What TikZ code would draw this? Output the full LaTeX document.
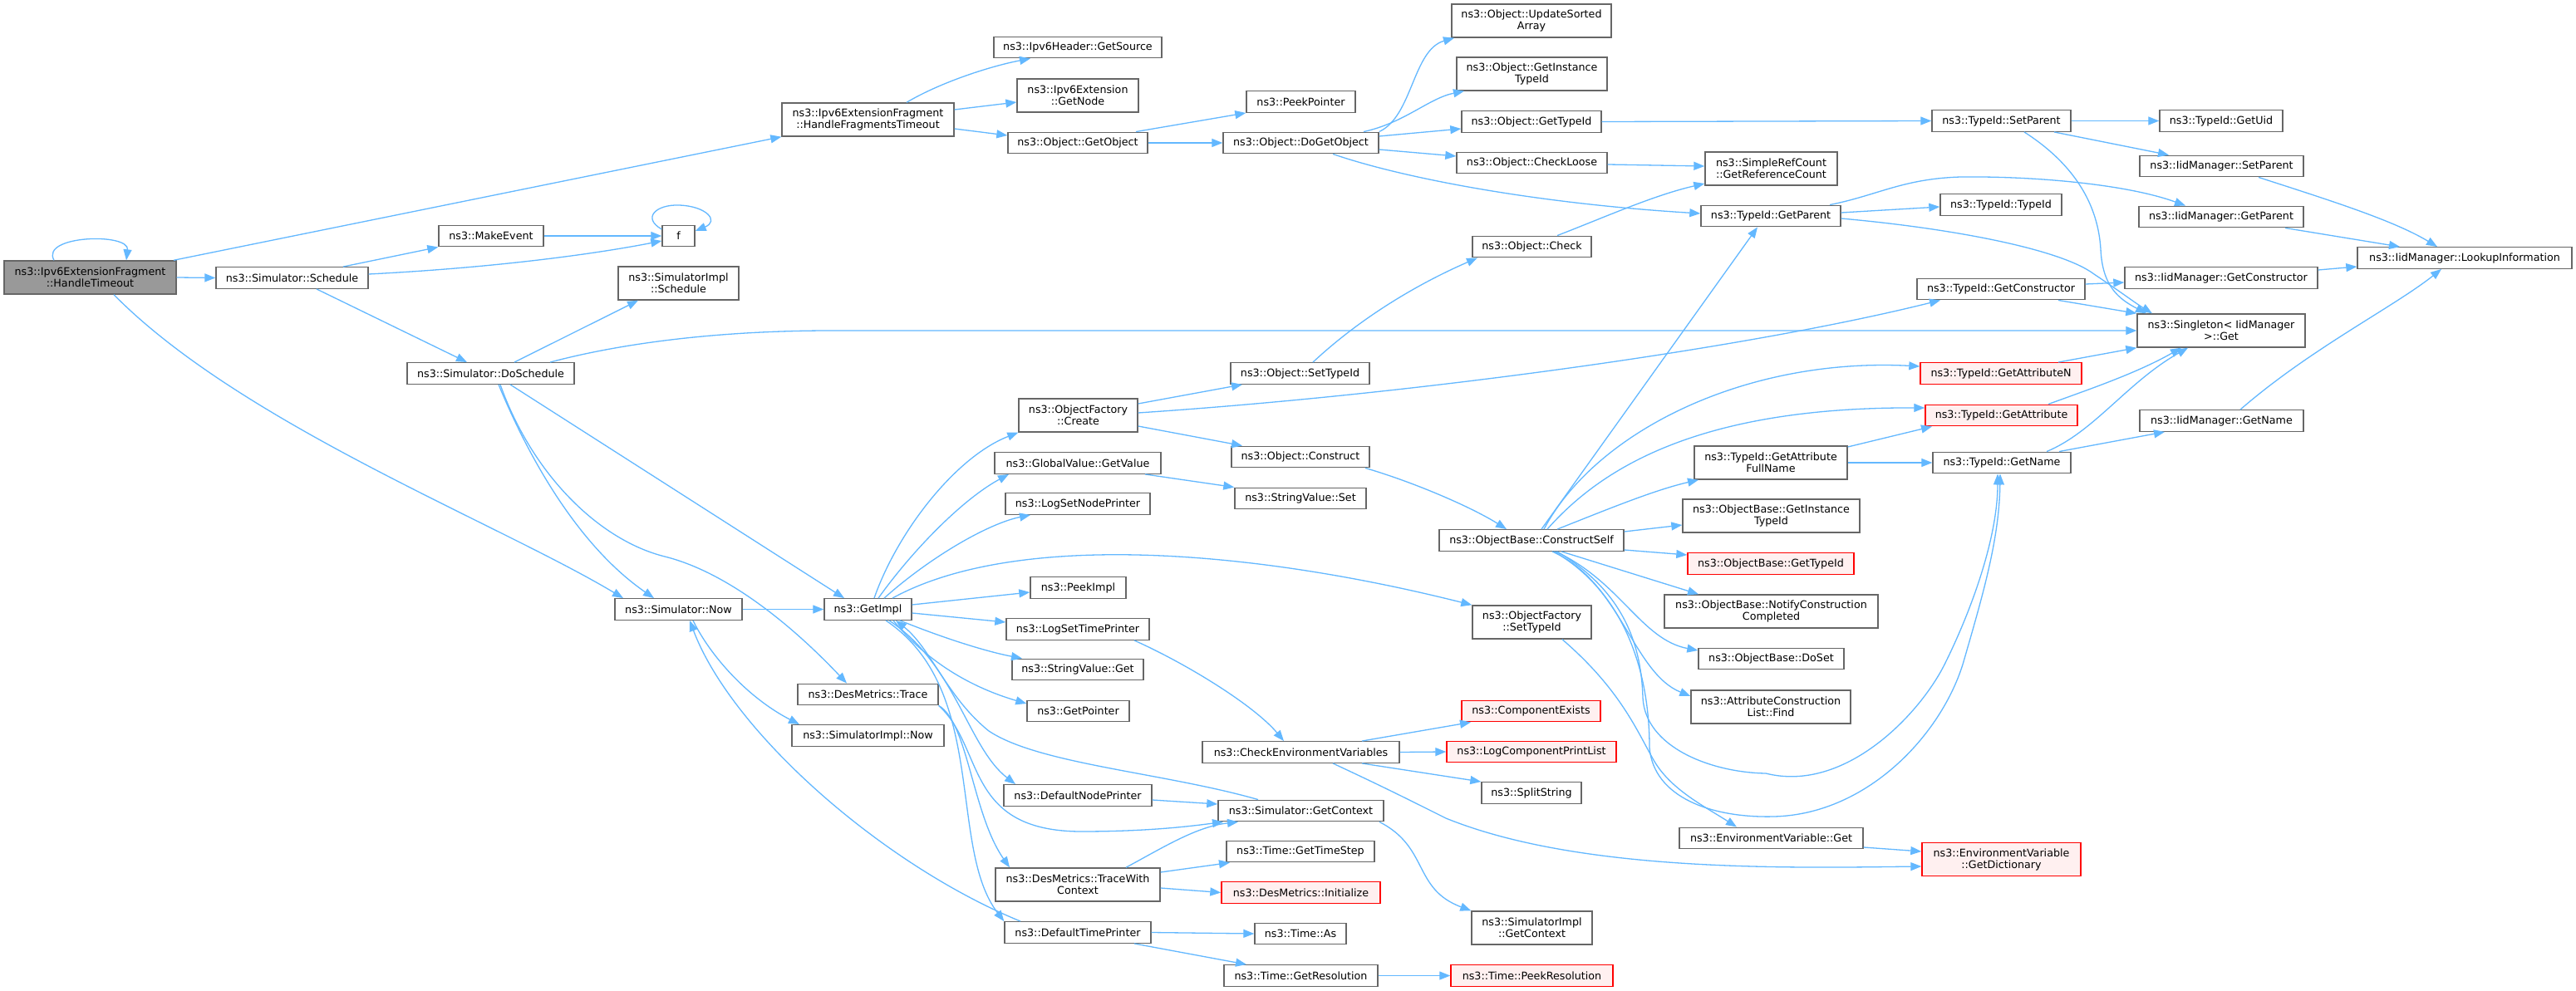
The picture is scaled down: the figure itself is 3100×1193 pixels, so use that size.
\documentclass[tikz,border=0pt]{standalone}
\usepackage{fontspec}
\setmainfont{DejaVu Sans}
\usetikzlibrary{arrows.meta}
\definecolor{eblue}{HTML}{63B8FF}
\definecolor{bgray}{HTML}{666666}
\definecolor{mgray}{HTML}{999999}
\definecolor{rfill}{HTML}{FFF0F0}
\definecolor{rborder}{HTML}{FF0000}
\newcommand\nfont{\fontsize{12.7}{14}\selectfont}
\begin{document}
\begin{tikzpicture}[x=1pt,y=-1pt,
  nb/.style={draw=bgray, line width=1.4pt, fill=white, inner sep=0pt, align=center, font=\nfont, minimum height=25.5pt},
  bw/.style={minimum width=#1pt},
  tl/.style={minimum height=40pt},
  rd/.style={draw=rborder, fill=rfill},
  mn/.style={fill=mgray},
  e/.style={draw=eblue, line width=1.3pt, -{Triangle[length=13pt,width=10pt]}}]
\useasboundingbox (0,0) rectangle (3100,1193);
\fill[white] (0,0) rectangle (3100,1193);

% column 0-3
\node[nb,mn,tl,bw=207] (ht) at (108.5,334) {ns3::Ipv6ExtensionFragment\\::HandleTimeout};
\node[nb,bw=183] (sched) at (351.5,334.5) {ns3::Simulator::Schedule};
\node[nb,bw=126] (mkev) at (591,284) {ns3::MakeEvent};
\node[nb,bw=201] (dosch) at (590.5,449.5) {ns3::Simulator::DoSchedule};
\node[nb,bw=39] (f) at (816.5,284) {f};
\node[nb,tl,bw=145] (sisched) at (816.5,341) {ns3::SimulatorImpl\\::Schedule};
\node[nb,bw=153] (now) at (816.5,733.5) {ns3::Simulator::Now};
% column 4
\node[nb,tl,bw=207] (hft) at (1044.5,144) {ns3::Ipv6ExtensionFragment\\::HandleFragmentsTimeout};
\node[nb,bw=105] (getimpl) at (1044.5,733.5) {ns3::GetImpl};
\node[nb,bw=169] (trace) at (1044.5,836) {ns3::DesMetrics::Trace};
\node[nb,bw=183] (sinow) at (1044.5,885.5) {ns3::SimulatorImpl::Now};
% column 5
\node[nb,bw=202] (getsource) at (1297,57) {ns3::Ipv6Header::GetSource};
\node[nb,tl,bw=146] (getnode) at (1297,115) {ns3::Ipv6Extension\\::GetNode};
\node[nb,bw=168] (getobject) at (1297,172) {ns3::Object::GetObject};
\node[nb,tl,bw=143] (create) at (1297.5,500) {ns3::ObjectFactory\\::Create};
\node[nb,bw=200] (getvalue) at (1297,557.5) {ns3::GlobalValue::GetValue};
\node[nb,bw=174] (lsnp) at (1297,606.5) {ns3::LogSetNodePrinter};
\node[nb,bw=115] (peekimpl) at (1297.5,707.5) {ns3::PeekImpl};
\node[nb,bw=172] (lstp) at (1297,757.5) {ns3::LogSetTimePrinter};
\node[nb,bw=158] (svget) at (1297,806) {ns3::StringValue::Get};
\node[nb,bw=123] (getpointer) at (1297.5,856) {ns3::GetPointer};
\node[nb,bw=178] (dnp) at (1297,957.5) {ns3::DefaultNodePrinter};
\node[nb,tl,bw=198] (twc) at (1297,1065) {ns3::DesMetrics::TraceWith\\Context};
\node[nb,bw=176] (dtp) at (1297,1122.5) {ns3::DefaultTimePrinter};
% column 6
\node[nb,bw=131] (peekptr) at (1565.5,122.5) {ns3::PeekPointer};
\node[nb,bw=187] (dogetobj) at (1565.5,172) {ns3::Object::DoGetObject};
\node[nb,bw=167] (ostid) at (1564.5,449.5) {ns3::Object::SetTypeId};
\node[nb,bw=166] (construct) at (1565,550) {ns3::Object::Construct};
\node[nb,bw=158] (svset) at (1565,600) {ns3::StringValue::Set};
\node[nb,bw=237] (cev) at (1565.5,905.5) {ns3::CheckEnvironmentVariables};
\node[nb,bw=199] (getctx) at (1565.5,976) {ns3::Simulator::GetContext};
\node[nb,bw=178] (gts) at (1565,1025) {ns3::Time::GetTimeStep};
\node[nb,rd,bw=191] (dminit) at (1565.5,1074.5) {ns3::DesMetrics::Initialize};
\node[nb,bw=110] (timeas) at (1565,1124) {ns3::Time::As};
\node[nb,bw=185] (getres) at (1565.5,1174.5) {ns3::Time::GetResolution};
% column 7
\node[nb,tl,bw=192] (usa) at (1843,25) {ns3::Object::UpdateSorted\\Array};
\node[nb,tl,bw=181] (ogitid) at (1843.5,89) {ns3::Object::GetInstance\\TypeId};
\node[nb,bw=168] (ogettid) at (1843,146.5) {ns3::Object::GetTypeId};
\node[nb,bw=181] (checkloose) at (1843.5,196) {ns3::Object::CheckLoose};
\node[nb,bw=143] (check) at (1843.5,297) {ns3::Object::Check};
\node[nb,bw=222] (cself) at (1843,650.5) {ns3::ObjectBase::ConstructSelf};
\node[nb,tl,bw=143] (oftid) at (1843.5,749) {ns3::ObjectFactory\\::SetTypeId};
\node[nb,rd,bw=167] (compex) at (1842.5,856) {ns3::ComponentExists};
\node[nb,rd,bw=204] (lcpl) at (1843,905) {ns3::LogComponentPrintList};
\node[nb,bw=120] (split) at (1843,954.5) {ns3::SplitString};
\node[nb,tl,bw=145] (sigetctx) at (1843.5,1117) {ns3::SimulatorImpl\\::GetContext};
\node[nb,rd,bw=195] (peekres) at (1843.5,1174.5) {ns3::Time::PeekResolution};
% column 8
\node[nb,tl,bw=159] (grc) at (2131.5,203) {ns3::SimpleRefCount\\::GetReferenceCount};
\node[nb,bw=168] (getparent) at (2131,260) {ns3::TypeId::GetParent};
\node[nb,tl,bw=184] (gafn) at (2131,557) {ns3::TypeId::GetAttribute\\FullName};
\node[nb,tl,bw=213] (obgitid) at (2131.5,621) {ns3::ObjectBase::GetInstance\\TypeId};
\node[nb,rd,bw=200] (obgtid) at (2131,678.5) {ns3::ObjectBase::GetTypeId};
\node[nb,tl,bw=257] (ncc) at (2131.5,736) {ns3::ObjectBase::NotifyConstruction\\Completed};
\node[nb,bw=175] (doset) at (2131.5,793) {ns3::ObjectBase::DoSet};
\node[nb,tl,bw=192] (acfind) at (2131,851) {ns3::AttributeConstruction\\List::Find};
\node[nb,bw=221] (evget) at (2131.5,1009) {ns3::EnvironmentVariable::Get};
% column 9
\node[nb,bw=167] (setparent) at (2408.5,145.5) {ns3::TypeId::SetParent};
\node[nb,bw=146] (tidtid) at (2408,246.5) {ns3::TypeId::TypeId};
\node[nb,bw=202] (tidgc) at (2408,348) {ns3::TypeId::GetConstructor};
\node[nb,rd,bw=194] (gan) at (2408,449.5) {ns3::TypeId::GetAttributeN};
\node[nb,rd,bw=183] (ga) at (2408.5,500) {ns3::TypeId::GetAttribute};
\node[nb,bw=166] (getname) at (2409,557) {ns3::TypeId::GetName};
\node[nb,rd,tl,bw=191] (getdict) at (2408.5,1034.5) {ns3::EnvironmentVariable\\::GetDictionary};
% column 10-11
\node[nb,bw=148] (getuid) at (2673,145.5) {ns3::TypeId::GetUid};
\node[nb,bw=197] (iidsp) at (2673.5,200) {ns3::IidManager::SetParent};
\node[nb,bw=198] (iidgp) at (2673,261) {ns3::IidManager::GetParent};
\node[nb,bw=232] (iidgc) at (2673,334.5) {ns3::IidManager::GetConstructor};
\node[nb,tl,bw=202] (singleton) at (2673,398) {ns3::Singleton< IidManager\\ >::Get};
\node[nb,bw=197] (iidgn) at (2673.5,506.5) {ns3::IidManager::GetName};
\node[nb,bw=258] (lookup) at (2966,310.5) {ns3::IidManager::LookupInformation};

% ---------------- edges ----------------
\draw[e] (ht.north -| 65,0) .. controls (48,283) and (156,280) .. (ht.north -| 152,0);
\draw[e] (ht.north -| 209,0) -- (hft.south west);
\draw[e] (ht.east) -- (sched.west);
\draw[e] (ht.south -| 137,0) .. controls (290,510) and (600,630) .. (now.north -| 750,0);
\draw[e] (sched.north -| 413,0) -- (mkev.south west);
\draw[e] (sched.east |- 0,330) .. controls (600,322) and (720,305) .. (f.west |- 0,290);
\draw[e] (mkev.east) -- (f.west);
\draw[e] (f.west |- 0,276) .. controls (772,262) and (790,246) .. (817,247) .. controls (850,248) and (866,266) .. (f.east |- 0,278);
\draw[e] (sched.south -| 381,0) -- (dosch.north -| 562,0);
\draw[e] (dosch.north -| 619,0) -- (sisched.south -| 768,0);
\draw[e] (dosch.north -| 662,0) .. controls (760,410) and (880,398) .. (1000,398) -- (singleton.west);
\draw[e] (dosch.south -| 600,0) .. controls (640,560) and (700,660) .. (now.north -| 787,0);
\draw[e] (dosch.south -| 602,0) .. controls (640,570) and (720,650) .. (800,670) .. controls (880,690) and (960,760) .. (trace.north -| 1019,0);
\draw[e] (dosch.south -| 614,0) -- (getimpl.north -| 1016,0);
\draw[e] (now.east) -- (getimpl.west);
\draw[e] (now.south -| 834,0) .. controls (855,790) and (900,840) .. (sinow.north -| 962,0);
\draw[e] (dtp.north -| 1228,0) .. controls (1060,1040) and (880,880) .. (now.south -| 830,0);
% GetImpl
\draw[e] (getimpl.north -| 1052,0) .. controls (1080,640) and (1150,550) .. (create.south west);
\draw[e] (getimpl.north -| 1057,0) .. controls (1100,660) and (1160,600) .. (getvalue.south -| 1214,0);
\draw[e] (getimpl.north -| 1064,0) .. controls (1120,670) and (1190,630) .. (lsnp.south -| 1240,0);
\draw[e] (getimpl.north -| 1074,0) .. controls (1220,640) and (1500,660) .. (oftid.north west);
\draw[e] (getimpl.east |- 0,728) -- (peekimpl.west |- 0,713);
\draw[e] (getimpl.east |- 0,738) -- (lstp.west |- 0,749);
\draw[e] (getimpl.south -| 1083,0) .. controls (1140,770) and (1190,785) .. (svget.north -| 1230,0);
\draw[e] (getimpl.south -| 1075,0) .. controls (1110,790) and (1160,825) .. (getpointer.west |- 0,847);
\draw[e] (getimpl.south -| 1070,0) .. controls (1150,800) and (1165,900) .. (dnp.north -| 1222,0);
\draw[e] (getimpl.south -| 1066,0) .. controls (1190,830) and (1140,1020) .. (dtp.north west);
\draw[e] (getctx.north -| 1514,0) .. controls (1400,930) and (1250,920) .. (1190,880) .. controls (1140,840) and (1120,780) .. (getimpl.south -| 1078,0);
% Trace
\draw[e] (trace.south east) .. controls (1165,870) and (1170,980) .. (twc.north -| 1215,0);
\draw[e] (trace.south east) .. controls (1185,900) and (1160,1000) .. (1300,1001) .. controls (1380,1001) and (1430,995) .. (getctx.south -| 1472,0);
\draw[e] (twc.north -| 1355,0) .. controls (1400,1020) and (1440,995) .. (getctx.south -| 1490,0);
\draw[e] (dnp.east |- 0,963) -- (getctx.west |- 0,968);
\draw[e] (twc.east |- 0,1050) -- (gts.south -| 1480,0);
\draw[e] (twc.east |- 0,1069) -- (dminit.west);
\draw[e] (dtp.east) -- (timeas.west);
\draw[e] (dtp.south -| 1365,0) -- (getres.north -| 1500,0);
\draw[e] (getres.east) -- (peekres.west);
\draw[e] (getctx.south -| 1660,0) .. controls (1720,1020) and (1700,1070) .. (sigetctx.north west);
\draw[e] (lstp.south -| 1365,0) .. controls (1430,800) and (1510,850) .. (cev.north -| 1545,0);
\draw[e] (cev.north -| 1639,0) -- (compex.south -| 1770,0);
\draw[e] (cev.east) -- (lcpl.west);
\draw[e] (cev.south -| 1639,0) -- (split.north west);
\draw[e] (cev.south -| 1604,0) .. controls (1660,945) and (1690,960) .. (1740,985) .. controls (1900,1050) and (2150,1045) .. (getdict.west |- 0,1043);
\draw[e] (evget.east |- 0,1020) -- (getdict.west |- 0,1025);
% Create etc.
\draw[e] (create.east |- 0,486) -- (ostid.south -| 1495,0);
\draw[e] (create.east |- 0,513) -- (construct.north -| 1495,0);
\draw[e] (create.east |- 0,497) .. controls (1700,475) and (2100,420) .. (tidgc.south -| 2335,0);
\draw[e] (getvalue.south -| 1378,0) -- (svset.north west);
\draw[e] (ostid.north -| 1580,0) .. controls (1640,380) and (1710,340) .. (check.south -| 1778,0);
\draw[e] (check.north -| 1874,0) .. controls (1930,262) and (1990,235) .. (grc.west |- 0,221);
\draw[e] (checkloose.east |- 0,198) -- (grc.west |- 0,200);
\draw[e] (construct.south -| 1643,0) .. controls (1700,580) and (1770,610) .. (cself.north -| 1813,0);
\draw[e] (oftid.south -| 1880,0) .. controls (1950,830) and (1970,880) .. (1990,915) .. controls (2010,950) and (2050,970) .. (evget.north -| 2090,0);
% ConstructSelf
\draw[e] (cself.north -| 1855,0) -- (getparent.south -| 2115,0);
\draw[e] (cself.north -| 1858,0) .. controls (1920,520) and (2100,430) .. (gan.west |- 0,441);
\draw[e] (cself.north -| 1862,0) .. controls (1930,560) and (2050,490) .. (ga.west |- 0,491);
\draw[e] (cself.north -| 1874,0) .. controls (1930,615) and (1990,590) .. (gafn.south -| 2044,0);
\draw[e] (cself.east |- 0,640) -- (obgitid.west |- 0,632);
\draw[e] (cself.east |- 0,662) -- (obgtid.west |- 0,668);
\draw[e] (cself.south -| 1879,0) -- (ncc.north -| 2044,0);
\draw[e] (cself.south -| 1872,0) .. controls (1950,700) and (1975,770) .. (doset.west |- 0,783);
\draw[e] (cself.south -| 1868,0) .. controls (1950,700) and (1965,810) .. (acfind.west |- 0,838);
\draw[e] (cself.south -| 1874,0) .. controls (1950,710) and (1975,770) .. (1977,840) .. controls (1980,900) and (2060,930) .. (2125,931) .. controls (2220,955) and (2310,860) .. (2340,800) .. controls (2370,740) and (2404,650) .. (getname.south -| 2404,0);
\draw[e] (cself.south -| 1870,0) .. controls (1950,710) and (1985,800) .. (1985,900) .. controls (1990,960) and (2060,985) .. (2135,983) .. controls (2250,980) and (2340,880) .. (2364,793) .. controls (2385,720) and (2406,650) .. (getname.south -| 2407,0);
% TypeId cluster
\draw[e] (gafn.east |- 0,538) -- (ga.south -| 2325,0);
\draw[e] (gafn.east |- 0,557) -- (getname.west);
\draw[e] (getname.north -| 2463,0) .. controls (2520,520) and (2560,460) .. (singleton.south -| 2633,0);
\draw[e] (getname.north -| 2478,0) -- (iidgn.south -| 2605,0);
\draw[e] (ga.north -| 2465,0) .. controls (2510,470) and (2570,450) .. (singleton.south -| 2625,0);
\draw[e] (gan.north -| 2477,0) -- (singleton.south west);
\draw[e] (iidgn.north -| 2696,0) .. controls (2780,420) and (2880,370) .. (lookup.south -| 2938,0);
\draw[e] (tidgc.east |- 0,342) -- (iidgc.west |- 0,340);
\draw[e] (tidgc.south -| 2477,0) -- (singleton.north west);
\draw[e] (iidgc.east |- 0,325) -- (lookup.west |- 0,321);
\draw[e] (iidsp.south -| 2718,0) .. controls (2800,240) and (2880,265) .. (lookup.north -| 2933,0);
\draw[e] (iidgp.south -| 2750,0) -- (lookup.north -| 2888,0);
\draw[e] (setparent.east) -- (getuid.west);
\draw[e] (setparent.south -| 2472,0) -- (iidsp.north -| 2610,0);
\draw[e] (setparent.south -| 2436,0) .. controls (2500,200) and (2525,250) .. (2528,300) .. controls (2530,345) and (2550,360) .. (singleton.north -| 2583,0);
\draw[e] (getparent.east |- 0,256) -- (tidtid.west |- 0,249);
\draw[e] (getparent.north -| 2202,0) .. controls (2260,235) and (2290,215) .. (2360,213) .. controls (2450,212) and (2560,222) .. (iidgp.north -| 2630,0);
\draw[e] (getparent.east |- 0,263) .. controls (2350,275) and (2480,300) .. (2520,330) .. controls (2550,350) and (2570,365) .. (singleton.north -| 2590,0);
% Object cluster
\draw[e] (dogetobj.north east) .. controls (1700,140) and (1700,60) .. (usa.south -| 1750,0);
\draw[e] (dogetobj.north -| 1641,0) .. controls (1690,148) and (1720,118) .. (ogitid.south -| 1762,0);
\draw[e] (dogetobj.east |- 0,164) -- (ogettid.west |- 0,155);
\draw[e] (dogetobj.east |- 0,180) -- (checkloose.west |- 0,188);
\draw[e] (dogetobj.south -| 1604,0) .. controls (1690,215) and (1850,245) .. (getparent.west |- 0,257);
\draw[e] (ogettid.east) -- (setparent.west);
\draw[e] (getobject.north -| 1367,0) -- (peekptr.south west);
\draw[e] (getobject.east) -- (dogetobj.west);
\draw[e] (hft.north -| 1091,0) .. controls (1130,100) and (1190,80) .. (getsource.south -| 1240,0);
\draw[e] (hft.east |- 0,132) -- (getnode.west |- 0,123);
\draw[e] (hft.east |- 0,155) -- (getobject.west |- 0,163);
\end{tikzpicture}
\end{document}
